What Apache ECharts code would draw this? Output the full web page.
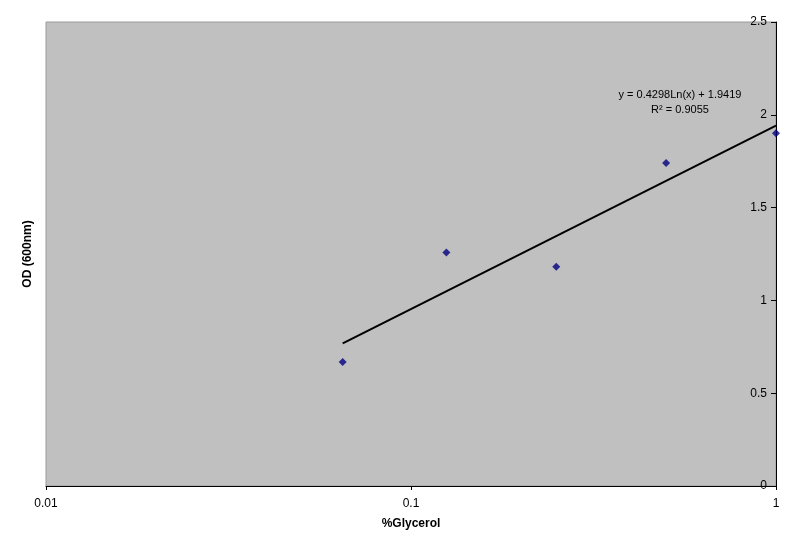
<!DOCTYPE html>
<html lang="en">
<head>
    <meta charset="UTF-8">
    <title>OD vs %Glycerol</title>
    <script src="https://cdn.jsdelivr.net/npm/echarts@6/dist/echarts.min.js"></script>
</head>
<body style="margin: 0; background-color: #FFFFFF">
<div id="container" style="width: 800px; height: 547px"></div>
</body>
<script type="text/javascript">
    // 数据点
    let glycerol = [0.065, 0.125, 0.25, 0.5, 1];
    let od = [0.668, 1.258, 1.181, 1.740, 1.900];
    // 趋势线两端
    let trendX = [0.065, 1];
    let trendY = [0.769, 1.942];
    let xTicks = ['0.01', '0.1', '1'];
    let yTicks = ['0', '0.5', '1', '1.5', '2', '2.5'];

    let font = 'Liberation Sans, Arial, sans-serif';
    let myChart = echarts.init(document.getElementById('container'));
    let option = {
        animation: false,
        backgroundColor: '#FFFFFF',
        grid: {
            left: 46,
            right: 24,
            top: 22,
            bottom: 61,
            show: true,
            backgroundColor: '#C0C0C0',
            borderColor: '#9A9A9A',
            borderWidth: 1
        },
        xAxis: {
            type: 'log',
            logBase: 10,
            min: 0.01,
            max: 1,
            name: '%Glycerol',
            nameLocation: 'middle',
            nameGap: 32,
            nameTextStyle: {fontFamily: font, fontSize: 12, fontWeight: 'bold', color: '#000'},
            axisLine: {lineStyle: {color: '#000', width: 1}},
            axisTick: {show: true, length: 4, lineStyle: {color: '#000'}},
            minorTick: {show: false},
            splitLine: {show: false},
            axisLabel: {
                fontFamily: font, fontSize: 12, color: '#000', margin: 12,
                formatter: function (v) {
                    let i = Math.round(Math.log10(v)) + 2;
                    return xTicks[i] || '';
                }
            }
        },
        yAxis: {
            type: 'value',
            position: 'right',
            min: 0,
            max: 2.5,
            interval: 0.5,
            axisLine: {show: true, lineStyle: {color: '#000', width: 1}},
            axisTick: {show: true, inside: true, length: 5, lineStyle: {color: '#000'}},
            splitLine: {show: false},
            axisLabel: {
                inside: true, margin: 9,
                fontFamily: font, fontSize: 12, color: '#000',
                formatter: function (v) {
                    return yTicks[Math.round(v / 0.5)];
                }
            }
        },
        graphic: [
            {
                type: 'text',
                x: 28, y: 254,
                rotation: Math.PI / 2,
                style: {
                    text: 'OD (600nm)', font: 'bold 12px ' + font, fill: '#000',
                    align: 'center', verticalAlign: 'middle'
                }
            },
            {
                type: 'text',
                x: 680, y: 95,
                style: {
                    text: 'y = 0.4298Ln(x) + 1.9419',
                    font: '11px ' + font, fill: '#000',
                    align: 'center', verticalAlign: 'middle'
                }
            },
            {
                type: 'text',
                x: 680, y: 110,
                style: {
                    text: 'R² = 0.9055',
                    font: '11px ' + font, fill: '#000',
                    align: 'center', verticalAlign: 'middle'
                }
            }
        ],
        series: [
            {
                name: 'trend',
                type: 'line',
                data: trendX.map((x, i) => [x, trendY[i]]),
                symbol: 'none',
                lineStyle: {color: '#000', width: 2},
                z: 2
            },
            {
                name: 'OD',
                type: 'scatter',
                data: glycerol.map((x, i) => [x, od[i]]),
                symbol: 'diamond',
                symbolSize: 8,
                itemStyle: {color: '#000080'},
                z: 3
            }
        ]
    };
    myChart.setOption(option);
</script>
</html>
